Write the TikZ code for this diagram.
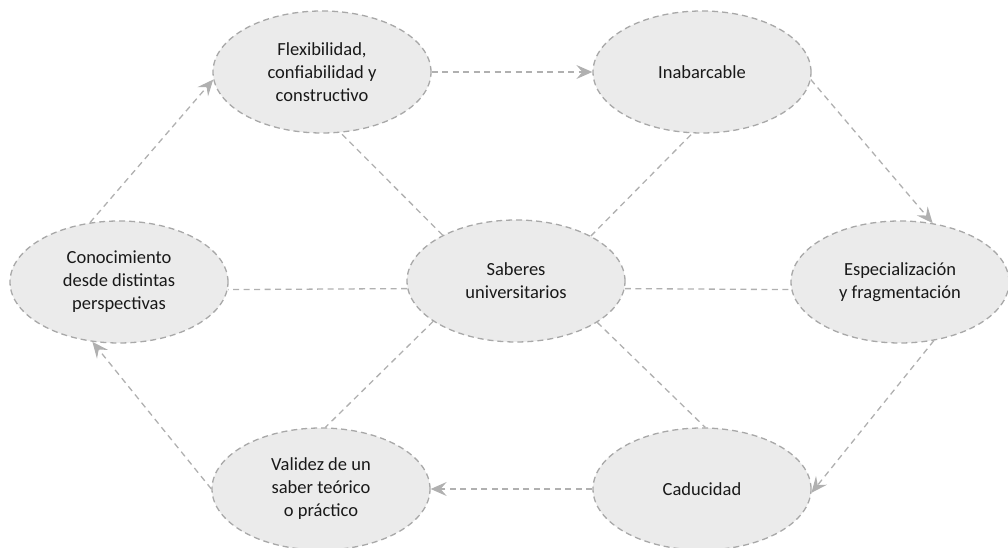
\documentclass[tikz,border=0pt]{standalone}
\usepackage{fontspec}
\setmainfont{Carlito}
\usetikzlibrary{shapes.geometric,arrows.meta}
\definecolor{ideafill}{RGB}{235,235,235}
\definecolor{idealine}{RGB}{168,168,168}
\definecolor{linkline}{RGB}{176,176,176}

\begin{document}
\begin{tikzpicture}[x=1pt,y=1pt,
    idea/.style={ellipse,draw=idealine,fill=ideafill,line width=1.3pt,
      dash pattern=on 6pt off 4pt,minimum width=218pt,minimum height=122pt,
      inner sep=0pt,align=center,text=black!90,
      font=\fontsize{18.5}{23}\selectfont},
    link/.style={draw=linkline,line width=1.3pt,dash pattern=on 6pt off 4.5pt},
    flow/.style={link,-{Stealth[length=16pt,width=14pt,inset=6pt]}}]
  \useasboundingbox (0,0) rectangle (1008,548);

  \node[idea] (saberes) at (516,267) {Saberes\\universitarios};
  \node[idea] (flex) at (322,476) {Flexibilidad,\\confiabilidad y\\constructivo};
  \node[idea] (inab) at (702,476) {Inabarcable};
  \node[idea] (espec) at (900,266) {Especializaci\'on\\y fragmentaci\'on};
  \node[idea] (caduc) at (702,59) {Caducidad};
  \node[idea] (valid) at (321,59) {Validez de un\\saber te\'orico\\o pr\'actico};
  \node[idea] (conoc) at (119,266) {Conocimiento\\desde distintas\\perspectivas};

  % spokes
  \draw[link] (saberes.148) -- (flex.-73);
  \draw[link] (saberes.31) -- (inab.-99);
  \draw[link] (saberes.184) -- (conoc.-4);
  \draw[link] (saberes.-4) -- (espec.184);
  \draw[link] (saberes.206) -- (valid.86);
  \draw[link] (saberes.-27) -- (caduc.87);

  % outer cycle
  \draw[flow] (conoc.116) -- (flex.184);
  \draw[flow] (flex.east) -- (inab.west);
  \draw[flow] (inab.-4) -- (espec.61);
  \draw[flow] (espec.-60) -- (caduc.-2);
  \draw[flow] (caduc.west) -- (valid.east);
  \draw[flow] (valid.180) -- (conoc.246);
\end{tikzpicture}
\end{document}
